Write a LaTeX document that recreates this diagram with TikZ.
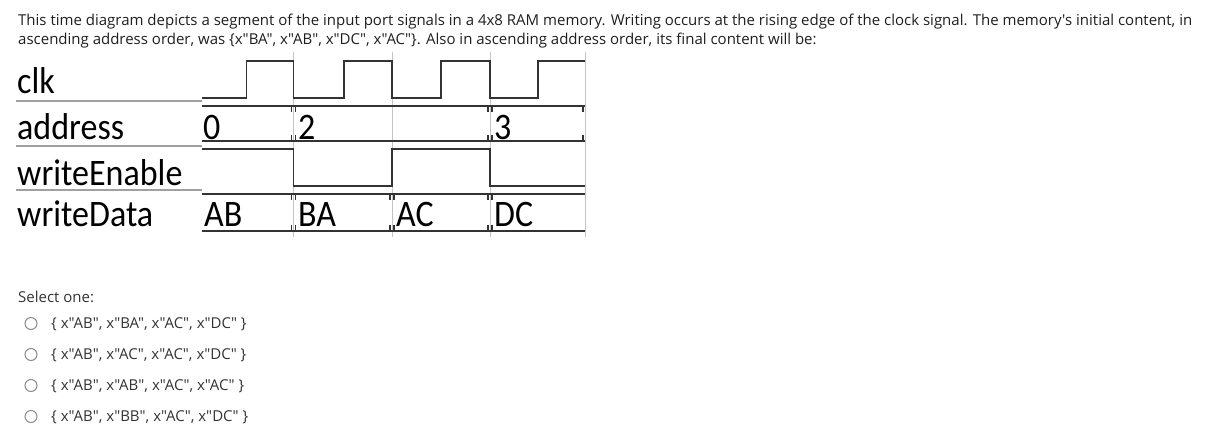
\documentclass[tikz,border=0pt]{standalone}
\usepackage{fontspec}
\setmainfont{Open Sans}[Ligatures=TeXOff]
\newfontfamily\sigfont{Carlito}
\definecolor{sigline}{HTML}{333333}
\definecolor{gridgray}{HTML}{C4C4C4}
\definecolor{sepgray}{HTML}{A0A0A0}
\definecolor{txtdark}{HTML}{1E1E1E}
\definecolor{opttxt}{HTML}{333333}
\definecolor{radiogray}{HTML}{8A8A8A}
\tikzset{
  sigwire/.style={draw=sigline, line width=1.4pt, line join=miter},
  busline/.style={draw=sigline, line width=1.4pt},
  bustick/.style={draw=sigline, line width=1.2pt},
  gridline/.style={draw=gridgray, line width=1pt},
  sepline/.style={draw=sepgray, line width=1.5pt},
  headtext/.style={anchor=base west, inner sep=0pt, text=txtdark, font=\fontsize{15}{18}\selectfont},
  opttext/.style={anchor=base west, inner sep=0pt, text=opttxt, font=\fontsize{15}{18}\selectfont},
  siglabel/.style={anchor=base west, inner sep=0pt, text=black, font=\sigfont\fontsize{34}{40}\selectfont}
}
\newcommand\sigtxt[1]{\scalebox{1}[1.1]{#1}}
\tikzset{
  radio/.style={circle, draw=radiogray, line width=1pt, minimum size=12pt, inner sep=0pt}
}
\begin{document}
\begin{tikzpicture}[x=1pt,y=-1pt]
\useasboundingbox (0,0) rectangle (1221,437);
% header
\node[headtext] (h1) at (18,25) {This time diagram depicts a segment of the input port signals in a 4x8 RAM memory. Writing occurs at the rising edge of the clock signal. The memory's initial content, in};
\node[headtext] (h2) at (18,44.5) {ascending address order, was \{x"BA", x"AB", x"DC", x"AC"\}. Also in ascending address order, its final content will be:};
% grid lines
\foreach \gx in {293.5,392,490,585}
  \draw[gridline] (\gx,52) -- (\gx,237);
% separators
\foreach \sy in {101,146,190}
  \draw[sepline] (16,\sy) -- (202,\sy);
% labels
\node[siglabel] (lclk) at (17,93) {\sigtxt{clk}};
\node[siglabel] (laddr) at (17,139) {\sigtxt{address}};
\node[siglabel] (lwe) at (17,185) {\sigtxt{writeEnable}};
\node[siglabel] (lwd) at (17,226) {\sigtxt{writeData}};
% clock
\draw[sigwire] (202,98) -- (246.5,98) -- (246.5,61) -- (293.5,61) -- (293.5,98) -- (344,98) -- (344,61) -- (392,61) -- (392,98) -- (441,98) -- (441,61) -- (490,61) -- (490,98) -- (538,98) -- (538,61) -- (585,61);
% address bus
\draw[busline] (202,106) -- (585,106);
\draw[busline] (202,141) -- (585,141);
\foreach \tx in {293.5,490} {
  \draw[bustick] (\tx-2,106) -- (\tx-2,112) (\tx+2,106) -- (\tx+2,112);
  \draw[bustick] (\tx-2,141) -- (\tx-2,135) (\tx+2,141) -- (\tx+2,135);
}
\draw[bustick] (583,106) -- (583,112) (583,141) -- (583,135);
\node[siglabel] (a0) at (203,139) {\sigtxt{0}};
\node[siglabel] (a2) at (298,139) {\sigtxt{2}};
\node[siglabel] (a3) at (494,139) {\sigtxt{3}};
% writeEnable
\draw[sigwire] (202,149) -- (293.5,149) -- (293.5,186) -- (392,186) -- (392,149) -- (490,149) -- (490,186) -- (585,186);
% writeData bus
\draw[busline] (202,194) -- (585,194);
\draw[busline] (202,231) -- (585,231);
\foreach \tx in {293.5,392,490} {
  \draw[bustick] (\tx-2,194) -- (\tx-2,200) (\tx+2,194) -- (\tx+2,200);
  \draw[bustick] (\tx-2,231) -- (\tx-2,225) (\tx+2,231) -- (\tx+2,225);
}
\node[siglabel] (dab) at (204,226) {\sigtxt{AB}};
\node[siglabel] (dba) at (298,226) {\sigtxt{BA}};
\node[siglabel] (dac) at (396,226) {\sigtxt{AC}};
\node[siglabel] (ddc) at (494,226) {\sigtxt{DC}};
% options
\node[opttext] (sel) at (18,302.5) {Select one:};
\node[radio] (r1) at (31,323.5) {};
\node[radio] (r2) at (31,354.5) {};
\node[radio] (r3) at (31,385.5) {};
\node[radio] (r4) at (31,416.5) {};
\node[opttext] (o1) at (51,328) {\{ x"AB", x"BA", x"AC", x"DC" \}};
\node[opttext] (o2) at (51,359) {\{ x"AB", x"AC", x"AC", x"DC" \}};
\node[opttext] (o3) at (51,390) {\{ x"AB", x"AB", x"AC", x"AC" \}};
\node[opttext] (o4) at (51,421) {\{ x"AB", x"BB", x"AC", x"DC" \}};
\end{tikzpicture}
\end{document}
